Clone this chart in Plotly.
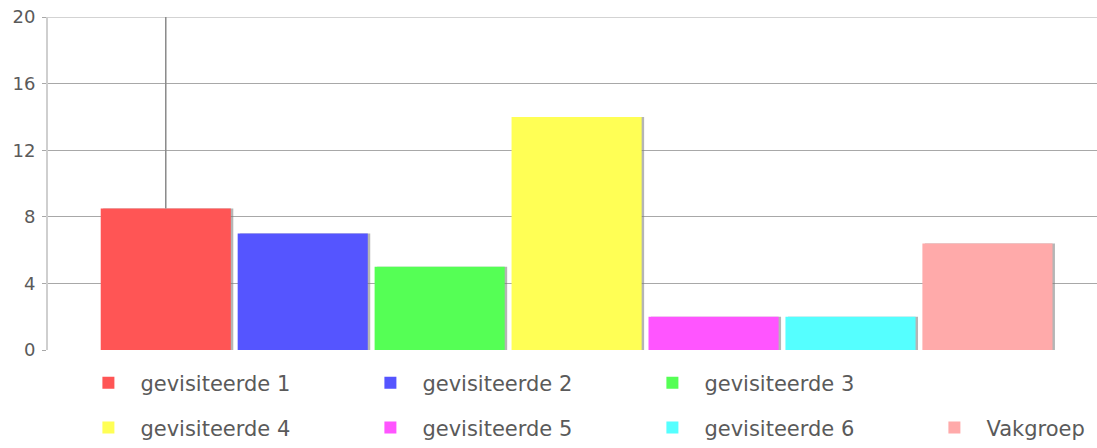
import plotly.graph_objects as go

# data
categories = ["gevisiteerde 1", "gevisiteerde 2", "gevisiteerde 3", "gevisiteerde 4",
              "gevisiteerde 5", "gevisiteerde 6", "Vakgroep"]
values = [8.5, 7, 5, 14, 2, 2, 6.4]
colors = ["#ff5555", "#5555ff", "#55ff55", "#ffff55", "#ff55ff", "#55ffff", "#ffaaaa"]
y_ticks = [0, 4, 8, 12, 16, 20]

Y_MAX = 20
BAR_W = 0.95
FONT = "DejaVu Sans"
TXT = "#5a5a5a"
GRID = "#a8a8a8"

fig = go.Figure()

# soft shadow behind each bar (right edge)
for cat, val in zip(categories, values):
    fig.add_trace(go.Bar(
        x=[cat], y=[val], width=BAR_W, offset=-BAR_W / 2 + 0.018,
        marker=dict(color="rgba(120,120,120,0.55)", line_width=0),
        showlegend=False, hoverinfo="skip",
    ))

legend_ids = ["legend"] * 3 + ["legend2"] * 3 + ["legend3"]
for i, (cat, val, col) in enumerate(zip(categories, values, colors)):
    err = None
    if i == 0:
        # thin vertical line above the first bar
        err = dict(type="data", symmetric=False, array=[Y_MAX - val], arrayminus=[0],
                   width=0, thickness=1.5, color="#8a8a8a")
    fig.add_trace(go.Bar(
        x=[cat], y=[val], name=cat, width=BAR_W, offset=-BAR_W / 2,
        marker=dict(color=col, line_width=0),
        error_y=err,
        legend=legend_ids[i],
    ))

LX = 0.066 + 4 / 1097
legend_common = dict(
    orientation="h", xref="container", yref="container",
    xanchor="left", yanchor="middle",
    itemwidth=54, entrywidth=213, entrywidthmode="pixels",
    font=dict(family=FONT, size=21, color=TXT),
    bgcolor="rgba(0,0,0,0)", itemclick=False, itemdoubleclick=False,
)

fig.update_layout(
    width=1097, height=448,
    barmode="overlay",
    plot_bgcolor="white", paper_bgcolor="white",
    margin=dict(l=48, r=0, t=17, b=98, autoexpand=False),
    font=dict(family=FONT, size=18, color=TXT),
    showlegend=True,
    legend=dict(legend_common, x=LX, y=0.145),
    legend2=dict(legend_common, x=LX, y=0.045),
    legend3=dict(legend_common, x=LX + 846 / 1097, y=0.045),
    xaxis=dict(visible=False, range=[-0.86, 6.8]),
    yaxis=dict(
        range=[0, Y_MAX], tickvals=y_ticks, ticktext=[str(t) for t in y_ticks],
        showgrid=True, gridcolor=GRID, gridwidth=1,
        showline=True, linecolor="#cfcfcf", linewidth=2,
        ticks="outside", ticklen=4, tickcolor=GRID,
        ticklabelstandoff=3, automargin=False,
        zeroline=False, tickfont=dict(family=FONT, size=18, color=TXT),
    ),
)

# top grid line (plotly skips the one sitting on the plot edge)
fig.add_hline(y=Y_MAX, line=dict(color=GRID, width=1), layer="below")

# drop the default page margin so the chart sits at the window's corner
fig.write_html("out.html", config={"displayModeBar": False},
               post_script="document.body.style.margin='0';")
